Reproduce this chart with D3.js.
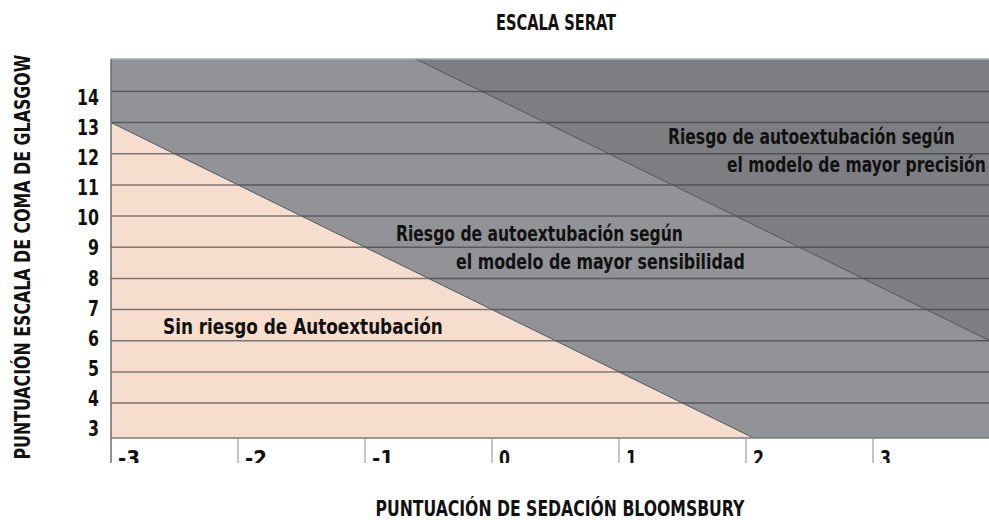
<!DOCTYPE html>
<html>
<head>
<meta charset="utf-8">
<script src="https://cdn.jsdelivr.net/npm/d3@7"></script>
<style>
  html, body { margin: 0; padding: 0; background: #fff; }
  svg text { font-family: "DejaVu Sans Condensed", "DejaVu Sans", sans-serif; font-stretch: condensed; font-weight: bold; fill: #111; }
</style>
</head>
<body>
<div id="plot"></div>
<script>
// axis values
var xTicks = [-3, -2, -1, 0, 1, 2, 3];
var yTicks = [3, 4, 5, 6, 7, 8, 9, 10, 11, 12, 13, 14];
var gridValues = [4, 5, 6, 7, 8, 9, 10, 11, 12, 13, 14];
var xDomain = [-3, 4];
var yDomain = [2.88, 15.04];

// boundaries between the risk zones (bloomsbury b, glasgow g)
var sensitivityLine = [{b: -3, g: 13}, {b: 2.06, g: 2.88}];
var precisionLine = [{b: -0.6, g: 15.04}, {b: 4, g: 5.84}];

var W = 989, H = 520;
var svg = d3.select('#plot').append('svg')
    .attr('width', W).attr('height', H);

var x = d3.scaleLinear().domain(xDomain).range([111, 1000]);
var y = d3.scaleLinear().domain(yDomain).range([438, 59]);
// tick labels sit on a slightly different spacing than the grid
var yLab = d3.scaleLinear().domain([14, 3]).range([97, 428]);

var pt = function(d){ return [x(d.b), y(d.g)]; };

var plot = svg.append('g');

// middle zone background
plot.append('rect')
    .attr('x', x(xDomain[0])).attr('y', y(yDomain[1]))
    .attr('width', W - x(xDomain[0]))
    .attr('height', y(yDomain[0]) - y(yDomain[1]))
    .attr('fill', '#929397');

// high precision zone
var darkZone = precisionLine.concat([{b: xDomain[1], g: yDomain[1]}]);
plot.append('polygon')
    .attr('points', darkZone.map(pt).join(' '))
    .attr('fill', '#7d7e82');

// no risk zone
var pinkZone = [{b: xDomain[0], g: yDomain[0]}].concat(sensitivityLine);
plot.append('polygon')
    .attr('points', pinkZone.map(pt).join(' '))
    .attr('fill', '#f7ddcd');

// horizontal grid
plot.selectAll('.grid')
    .data(gridValues)
    .enter()
    .append('line')
    .attr('class', 'grid')
    .attr('x1', x(xDomain[0])).attr('x2', W)
    .attr('y1', function(d){ return y(d); })
    .attr('y2', function(d){ return y(d); })
    .attr('stroke', 'rgba(55,55,60,0.62)')
    .attr('stroke-width', 1.5);

// zone boundaries
var line = d3.line().x(function(d){ return x(d.b); }).y(function(d){ return y(d.g); });
svg.append('clipPath').attr('id', 'pclip')
    .append('rect').attr('x', 0).attr('y', 0).attr('width', W).attr('height', H);
[sensitivityLine, precisionLine].forEach(function(l){
    plot.append('path')
        .attr('d', line(l))
        .attr('clip-path', 'url(#pclip)')
        .attr('fill', 'none')
        .attr('stroke', '#56575b')
        .attr('stroke-width', 1);
});

// frame
plot.append('line')
    .attr('x1', x(xDomain[0])).attr('x2', W)
    .attr('y1', y(yDomain[1])).attr('y2', y(yDomain[1]))
    .attr('stroke', '#a9aaad').attr('stroke-width', 1.5);
plot.append('line')
    .attr('x1', x(xDomain[0])).attr('x2', W)
    .attr('y1', y(yDomain[0])).attr('y2', y(yDomain[0]))
    .attr('stroke', '#7a7a7e').attr('stroke-width', 1.5);

// squeeze a text to a given width (original uses a condensed face)
function squeeze(sel, len, anchor){
    sel.each(function(){
        var t = d3.select(this);
        var w = typeof len == 'function' ? len(t.datum()) : len;
        var natural = this.getComputedTextLength();
        var k = w / natural;
        var px = +t.attr('x'), py = +t.attr('y');
        var off = anchor == 'middle' ? -w / 2 : anchor == 'end' ? -w : 0;
        t.attr('x', 0).attr('y', 0).attr('text-anchor', 'start')
            .attr('transform', (t.attr('transform') || '') +
                ' translate(' + (px + off) + ',' + py + ') scale(' + k + ',1)');
    });
    return sel;
}

// x axis (bottom of labels is cut at 463 like the original)
svg.append('clipPath').attr('id', 'xclip')
    .append('rect').attr('x', 0).attr('y', 0).attr('width', W).attr('height', 463);

var xAxis = svg.append('g').attr('clip-path', 'url(#xclip)');
xAxis.selectAll('.xtick')
    .data(xTicks)
    .enter()
    .append('line')
    .attr('class', 'xtick')
    .attr('x1', function(d){ return x(d); })
    .attr('x2', function(d){ return x(d); })
    .attr('y1', function(d){ return d == xDomain[0] ? y(yDomain[1]) : y(yDomain[0]); })
    .attr('y2', 463)
    .attr('stroke', function(d){ return d == xDomain[0] ? '#6b6c70' : '#8a8a8a'; })
    .attr('stroke-width', function(d){ return d == xDomain[0] ? 1.5 : 1; });

var numWidth = function(d){ return String(d).length * 11; };

xAxis.selectAll('.xlab')
    .data(xTicks)
    .enter()
    .append('text')
    .attr('class', 'xlab')
    .attr('x', function(d){ return x(d) + 7; })
    .attr('y', 466)
    .style('font-size', '22px')
    .text(function(d){ return d; })
    .call(squeeze, numWidth, 'start');

// y labels
svg.selectAll('.ylab')
    .data(yTicks)
    .enter()
    .append('text')
    .attr('class', 'ylab')
    .attr('x', 99)
    .attr('y', function(d){ return yLab(d) + 8; })
    .style('font-size', '22px')
    .text(function(d){ return d; })
    .call(squeeze, numWidth, 'end');

// titles
function label(txt, px, py, len, size, anchor, parent){
    return (parent || svg).append('text')
        .attr('x', px).attr('y', py)
        .style('font-size', size + 'px')
        .text(txt)
        .call(squeeze, len, anchor || 'start');
}

label('ESCALA SERAT', 556, 30, 120, 21, 'middle');
label('PUNTUACIÓN DE SEDACIÓN BLOOMSBURY', 560, 516, 369, 21, 'middle');
var yTitle = svg.append('g').attr('transform', 'translate(30,257) rotate(-90)');
label('PUNTUACIÓN ESCALA DE COMA DE GLASGOW', 0, 0, 405, 21, 'middle', yTitle);

// zone annotations
label('Sin riesgo de Autoextubación', 163, 334, 280, 22);
label('Riesgo de autoextubación según', 396, 241, 287, 22);
label('el modelo de mayor sensibilidad', 456, 269, 289, 22);
label('Riesgo de autoextubación según', 668, 144, 287, 22);
label('el modelo de mayor precisión', 727, 172, 259, 22);
</script>
</body>
</html>
